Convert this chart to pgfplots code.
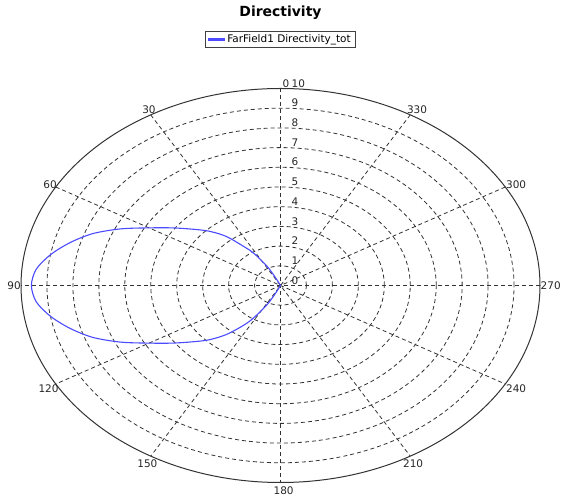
\documentclass[border=0pt]{standalone}
\usepackage{pgfplots}
\usepackage{pgfplotstable}
\pgfplotsset{compat=1.18}
\usepackage{fontspec}
\setmainfont{DejaVu Sans}
\definecolor{curveblue}{RGB}{75,75,255}
\definecolor{gridc}{RGB}{50,50,50}

% chart angle theta (0 at top, counter-clockwise), directivity r
\pgfplotstableread{
theta r
25 0
26 0.5
28 1.1
32 1.9
35 2.35
40 3.25
45 3.9
50 4.45
55 5.1
60 5.85
65 6.8
70 7.7
75 8.4
80 9.0
85 9.45
90 9.6
95 9.45
100 9.0
105 8.4
110 7.7
115 6.8
120 5.85
125 5.1
130 4.45
135 3.9
140 3.25
145 2.45
148 1.9
152 1.1
154 0.5
155 0
}\directivity

\begin{document}
\begin{tikzpicture}
\path[use as bounding box] (0,0) rectangle (563bp,497bp);
\begin{axis}[
  at={(280.5bp,211.5bp)}, anchor=center,
  scale only axis, width=519bp, height=394bp,
  xmin=-10, xmax=10, ymin=-10, ymax=10,
  axis lines=none, clip=false,
  title={Directivity},
  title style={font=\fontsize{14}{16}\selectfont\bfseries, at={(0.5,1)}, anchor=base, yshift=66bp},
  legend style={at={(0.5,1.1244)}, anchor=center, draw=gray!50!black, line width=1bp,
    font=\fontsize{10.5}{12}\selectfont, inner xsep=3bp, inner ysep=1bp},
]
% rings
\pgfplotsinvokeforeach{1,2,3,4,5,6,7,8,9}{
  \draw[gridc, line width=0.8bp, dash pattern=on 4bp off 3bp] (axis cs:0,0) ellipse [x radius=#1, y radius=#1];
}
% spokes
\pgfplotsinvokeforeach{0,30,60,90,120,150}{
  \draw[gridc, line width=0.8bp, dash pattern=on 4bp off 3bp] (axis cs:{10*cos(#1)},{10*sin(#1)}) -- (axis cs:{-10*cos(#1)},{-10*sin(#1)});
}
% outer ellipse
\draw[gray!40!black, line width=1bp] (axis cs:0,0) ellipse [x radius=10, y radius=10];

% data
\addplot[color=curveblue, line width=1.1bp, smooth, tension=0.5,
  legend image code/.code={\fill[curveblue] (0bp,-0.8bp) rectangle (16bp,0.8bp);}]
  table[x expr={\thisrow{r}*cos(\thisrow{theta}+90)}, y expr={\thisrow{r}*sin(\thisrow{theta}+90)}] {\directivity};
\addlegendentry{FarField1 Directivity\_tot}

% radial labels
\pgfplotsinvokeforeach{0,1,2,3,4,5,6,7,8,9,10}{
  \node[anchor=south west, inner sep=0pt, xshift=11bp, yshift=1bp, font=\fontsize{10.5}{12}\selectfont, text=black!85] at (axis cs:0,#1) {#1};
}
% angle labels
\begin{scope}[every node/.style={inner sep=0pt, font=\fontsize{10.5}{12}\selectfont, text=black!85}]
\node at (axis cs:0.21,10.25) {0};
\node at (axis cs:-5.07,8.93) {30};
\node at (axis cs:-8.88,5.13) {60};
\node[anchor=east] at (axis cs:-10,-0.03) {90};
\node at (axis cs:-8.94,-5.25) {120};
\node at (axis cs:-5.13,-9.04) {150};
\node at (axis cs:0.12,-10.43) {180};
\node at (axis cs:5.11,-9.04) {210};
\node at (axis cs:9.08,-5.25) {240};
\node[anchor=west] at (axis cs:10.02,-0.03) {270};
\node at (axis cs:9.08,5.13) {300};
\node at (axis cs:5.26,8.93) {330};
\end{scope}
\end{axis}
\end{tikzpicture}
\end{document}
